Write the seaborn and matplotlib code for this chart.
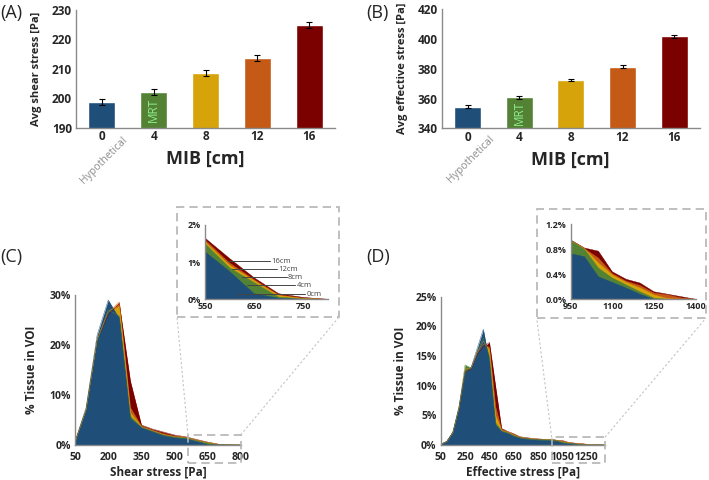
import matplotlib
matplotlib.use("Agg")
import matplotlib.pyplot as plt
from matplotlib.patches import Rectangle
from matplotlib.lines import Line2D
from matplotlib.ticker import FuncFormatter
import seaborn as sns
import pandas as pd

# ── data ─────────────────────────────────────────────────────
mib_labels = ["0", "4", "8", "12", "16"]
series_names = ["0cm", "4cm", "8cm", "12cm", "16cm"]
colors = ["#1f4e79", "#548235", "#d6a40a", "#c55a16", "#7b0000"]

shear_avg = [198.6, 202.1, 208.5, 213.7, 224.8]
shear_err = [1.0, 1.1, 1.0, 1.0, 1.0]
eff_avg = [354.6, 360.8, 372.3, 381.5, 401.8]
eff_err = [0.8, 0.8, 0.8, 0.8, 0.8]

shear_x = [50, 100, 150, 200, 250, 300, 350, 400, 450, 500, 550, 600, 650, 700, 750, 800]
shear_0 = [0.7, 7.5, 22.0, 29.0, 25.3, 5.3, 3.5, 2.7, 1.9, 1.5, 1.28, 0.75, 0.15, 0.03, 0.0, 0.0]
shear_4 = [0.6, 7.0, 21.0, 27.0, 25.8, 5.8, 3.6, 2.8, 2.0, 1.6, 1.50, 0.85, 0.45, 0.06, 0.01, 0.0]
shear_8 = [0.6, 7.0, 21.0, 26.8, 27.8, 6.5, 3.7, 2.9, 2.1, 1.7, 1.55, 0.92, 0.50, 0.10, 0.02, 0.0]
shear_12 = [0.6, 7.0, 21.0, 26.5, 28.6, 7.5, 3.8, 3.0, 2.3, 1.8, 1.60, 0.98, 0.53, 0.12, 0.03, 0.0]
shear_16 = [0.6, 7.0, 21.0, 26.0, 28.3, 12.8, 4.0, 3.2, 2.6, 2.0, 1.65, 1.10, 0.58, 0.15, 0.05, 0.0]

eff_x = list(range(50, 1401, 50))
eff_0 = [0.1, 0.6, 2.2, 6.5, 12.3, 13.1, 16.3, 19.5, 14.0, 3.4, 2.3, 2.0, 1.5, 1.2,
         1.05, 0.95, 0.88, 0.82, 0.73, 0.68, 0.36, 0.27, 0.18, 0.08, 0.0, 0.0, 0.0, 0.0]
eff_4 = [0.1, 0.6, 2.1, 6.3, 13.5, 13.0, 15.8, 18.0, 15.0, 3.8, 2.4, 2.1, 1.6, 1.25,
         1.1, 1.0, 0.95, 0.92, 0.94, 0.80, 0.50, 0.34, 0.23, 0.12, 0.02, 0.0, 0.0, 0.0]
eff_8 = [0.1, 0.6, 2.1, 6.2, 12.8, 13.0, 15.6, 17.5, 16.0, 5.0, 2.5, 2.2, 1.7, 1.3,
         1.15, 1.05, 0.98, 0.94, 0.94, 0.81, 0.58, 0.39, 0.27, 0.18, 0.07, 0.01, 0.0, 0.0]
eff_12 = [0.1, 0.6, 2.1, 6.1, 12.5, 12.9, 15.5, 17.0, 16.5, 6.5, 2.6, 2.25, 1.8, 1.35,
          1.2, 1.1, 1.0, 0.95, 0.94, 0.81, 0.66, 0.41, 0.29, 0.22, 0.10, 0.07, 0.02, 0.0]
eff_16 = [0.1, 0.6, 2.1, 6.0, 12.3, 12.8, 15.3, 16.5, 17.3, 10.0, 2.8, 2.3, 1.9, 1.4,
          1.25, 1.12, 1.02, 0.97, 0.95, 0.82, 0.77, 0.44, 0.32, 0.26, 0.12, 0.08, 0.04, 0.0]

# leader labels in inset (C): start x, end x, y
lead_x0 = [597, 604, 625, 635, 614]
lead_x1 = [682, 696, 716, 733, 753]
lead_y = [1.03, 0.81, 0.60, 0.38, 0.14]
lead_txt = ["16cm", "12cm", "8cm", "4cm", "0cm"]

# ── style ────────────────────────────────────────────────────
sns.set_theme(style="white")
plt.rcParams["font.family"] = ["Open Sans", "DejaVu Sans"]
TXT = "#262626"
SPINE = "#8a8a8a"

W, H = 709, 480
fig = plt.figure(figsize=(W / 100, H / 100), dpi=100)


def box(x0, y0, x1, y1):
    return [x0 / W, 1 - y1 / H, (x1 - x0) / W, (y1 - y0) / H]


def style_ax(ax, fs=8, xticks=True):
    for s in ["top", "right"]:
        ax.spines[s].set_visible(False)
    for s in ["left", "bottom"]:
        ax.spines[s].set_color(SPINE)
        ax.spines[s].set_linewidth(1.0)
    ax.tick_params(axis="y", length=0, pad=3, labelsize=fs, labelcolor=TXT)
    ax.tick_params(axis="x", length=3 if xticks else 0, width=0.8, color=SPINE,
                   pad=2, labelsize=fs, labelcolor=TXT)
    for lab in ax.get_xticklabels() + ax.get_yticklabels():
        lab.set_fontweight("bold")


# ── bar panels ───────────────────────────────────────────────
def bar_panel(rect, vals, errs, ylim, yticks, ylabel, mrt_y):
    ax = fig.add_axes(rect)
    df = pd.DataFrame({"MIB": mib_labels, "val": vals})
    sns.barplot(data=df, x="MIB", y="val", hue="MIB", palette=colors, legend=False,
                width=0.52, errorbar=None, ax=ax, saturation=1)
    ax.errorbar(range(len(vals)), vals, yerr=errs, fmt="none", ecolor="black",
                elinewidth=0.8, capsize=2.5, capthick=0.8)
    ax.set_ylim(*ylim)
    ax.set_yticks(yticks)
    ax.set_xlim(-0.5, 4.5)
    ax.set_xlabel("")
    ax.set_ylabel(ylabel, fontsize=8, fontweight="bold", color=TXT, labelpad=7)
    style_ax(ax, fs=8.5, xticks=False)
    ax.text(1, mrt_y, "MRT", rotation=90, ha="center", va="center",
            color="#8cf08c", fontsize=8.5)
    return ax


axA = bar_panel(box(76, 10, 335, 127.7), shear_avg, shear_err, (190, 230),
                [190, 200, 210, 220, 230], "Avg shear stress [Pa]", 196)
axB = bar_panel(box(441.7, 9.3, 700, 128.3), eff_avg, eff_err, (340, 420),
                [340, 360, 380, 400, 420], "Avg effective stress [Pa]", 350)

for xc, yc in [(205, 159), (570, 160)]:
    fig.text(xc / W, 1 - yc / H, "MIB [cm]", ha="center", va="center",
             fontsize=13, fontweight="bold", color=TXT)
for xr, yt in [(129, 135), (496, 134)]:
    fig.text(xr / W, 1 - yt / H, "Hypothetical", rotation=45, ha="right", va="top",
             fontsize=7.5, color="#8c8c8c")

# ── area panels ──────────────────────────────────────────────
def area(ax, x, ys):
    # back to front: 16cm ... 0cm
    for y, c in zip(ys[::-1], colors[::-1]):
        ax.fill_between(x, y, 0, color=c, linewidth=0)
        sns.lineplot(x=x, y=y, color=c, linewidth=0.3, ax=ax)


pct = FuncFormatter(lambda v, p: f"{v:.0f}%")
pct1 = FuncFormatter(lambda v, p: f"{v:.1f}%")

shear_all = [shear_0, shear_4, shear_8, shear_12, shear_16]
eff_all = [eff_0, eff_4, eff_8, eff_12, eff_16]

axC = fig.add_axes(box(75, 295, 241, 445))
area(axC, shear_x, shear_all)
axC.set_xlim(50, 800)
axC.set_ylim(0, 30)
axC.set_xticks([50, 200, 350, 500, 650, 800])
axC.set_yticks([0, 10, 20, 30])
axC.yaxis.set_major_formatter(pct)
axC.set_xlabel("Shear stress [Pa]", fontsize=8.5, fontweight="bold", color=TXT, labelpad=2)
axC.set_ylabel("% Tissue in VOI", fontsize=8.5, fontweight="bold", color=TXT, labelpad=8)
style_ax(axC, fs=7.5)

axCi = fig.add_axes(box(205, 225, 327.9, 299.3))
area(axCi, shear_x, shear_all)
axCi.set_xlim(550, 800)
axCi.set_ylim(0, 2)
axCi.set_xticks([550, 650, 750])
axCi.set_yticks([0, 1, 2])
axCi.yaxis.set_major_formatter(pct)
axCi.set_xlabel("")
axCi.set_ylabel("")
style_ax(axCi, fs=6.5, xticks=False)
for x0, x1, y, t in zip(lead_x0, lead_x1, lead_y, lead_txt):
    axCi.plot([x0, x1], [y, y], color="#444444", lw=0.7)
    axCi.text(x1 + 3, y, t, fontsize=5.5, color="#444444", va="center", ha="left")

axD = fig.add_axes(box(440.7, 296.7, 605, 445))
area(axD, eff_x, eff_all)
axD.set_xlim(50, 1400)
axD.set_ylim(0, 25)
axD.set_xticks([50, 250, 450, 650, 850, 1050, 1250])
axD.set_yticks([0, 5, 10, 15, 20, 25])
axD.yaxis.set_major_formatter(pct)
axD.set_xlabel("Effective stress [Pa]", fontsize=8.5, fontweight="bold", color=TXT, labelpad=2)
axD.set_ylabel("% Tissue in VOI", fontsize=8.5, fontweight="bold", color=TXT, labelpad=6)
style_ax(axD, fs=7.5)

axDi = fig.add_axes(box(570.7, 224.3, 695.7, 299.3))
area(axDi, eff_x, eff_all)
axDi.set_xlim(950, 1400)
axDi.set_ylim(0, 1.2)
axDi.set_xticks([950, 1100, 1250, 1400])
axDi.set_yticks([0, 0.4, 0.8, 1.2])
axDi.yaxis.set_major_formatter(pct1)
axDi.set_xlabel("")
axDi.set_ylabel("")
style_ax(axDi, fs=6.5, xticks=False)

# ── zoom boxes and connectors ────────────────────────────────
def dashed_box(x0, y0, x1, y1, lw=1.2):
    fig.add_artist(Rectangle((x0 / W, 1 - y1 / H), (x1 - x0) / W, (y1 - y0) / H,
                             transform=fig.transFigure, fill=False, ec="#b4b4b4",
                             lw=lw, ls=(0, (5, 3)), zorder=5))


def dotted(p, q):
    fig.add_artist(Line2D([p[0] / W, q[0] / W], [1 - p[1] / H, 1 - q[1] / H],
                          transform=fig.transFigure, color="#c4c4c4", lw=0.8,
                          ls=(0, (2, 2)), zorder=5))


dashed_box(177, 207, 339, 317)
dashed_box(188, 435, 240.7, 462.7)
dotted((188, 435), (177, 317))
dotted((240.7, 435), (339, 317))

dashed_box(536.7, 209, 706, 318)
dashed_box(551.7, 437.3, 605, 462.7)
dotted((551.7, 437.3), (536.7, 318))
dotted((605, 437.3), (706, 318))

# ── panel letters ────────────────────────────────────────────
for xl, yl, t in [(0, 13, "(A)"), (366, 13, "(B)"), (0, 257, "(C)"), (366, 257, "(D)")]:
    fig.text(xl / W, 1 - yl / H, t, fontsize=13, color=TXT, ha="left", va="center")

fig.savefig("out.png", dpi=100)
